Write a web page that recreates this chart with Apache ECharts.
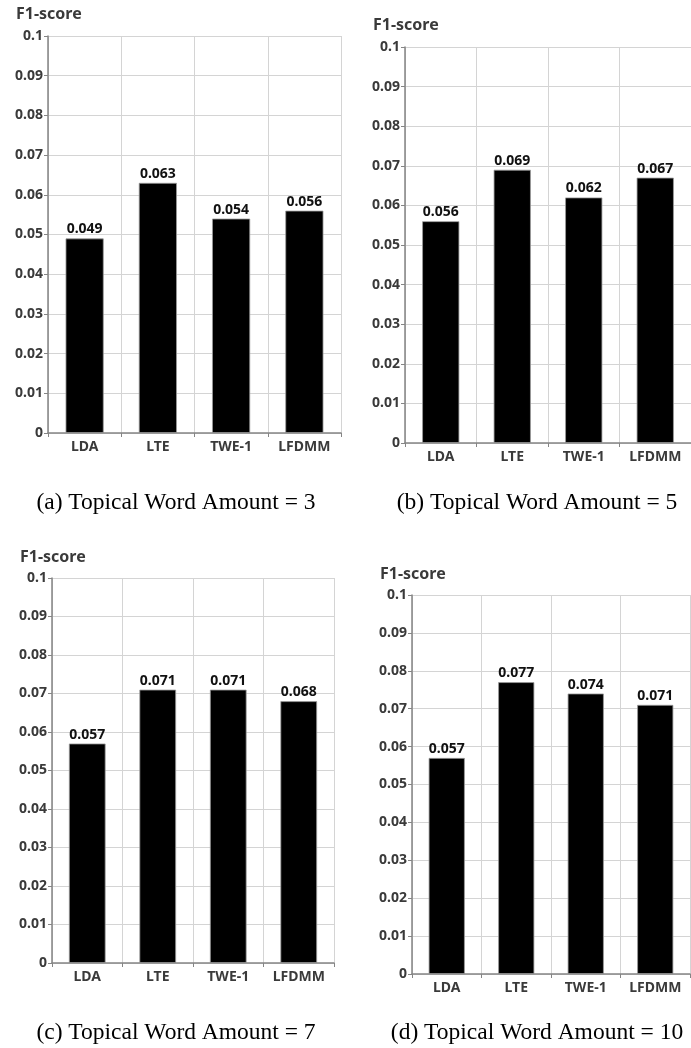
<!DOCTYPE html>
<html>
<head>
<meta charset="utf-8">
<script src="https://cdn.jsdelivr.net/npm/echarts@6/dist/echarts.min.js"></script>
<style>
html,body{margin:0;padding:0;background:#fff;overflow:hidden;}
#c{width:691px;height:1048px;}
</style>
</head>
<body>
<div id="c"></div>
<script>
const categories = ['LDA', 'LTE', 'TWE-1', 'LFDMM'];
const valuesA = [0.049, 0.063, 0.054, 0.056];
const valuesB = [0.056, 0.069, 0.062, 0.067];
const valuesC = [0.057, 0.071, 0.071, 0.068];
const valuesD = [0.057, 0.077, 0.074, 0.071];
const captions = ['(a) Topical Word Amount = 3', '(b) Topical Word Amount = 5', '(c) Topical Word Amount = 7', '(d) Topical Word Amount = 10'];
const yName = 'F1-score';
const yMin = 0, yMax = 0.1, yStep = 0.01;

const allValues = [valuesA, valuesB, valuesC, valuesD];
const W = 691;
const grids = [
  {left: 48, top: 36, right: W - 341, bottom: 1048 - 433},
  {left: 405, top: 47, right: W - 697, bottom: 1048 - 443},
  {left: 52, top: 578, right: W - 334, bottom: 1048 - 963},
  {left: 412, top: 595, right: W - 690, bottom: 1048 - 974}
];
const namePos = [[16, 14], [373, 25], [20, 557], [380, 574]];
const capPos = [[176, 503], [537, 503], [176, 1033], [537, 1033]];

const font = '"Noto Sans", "Open Sans", sans-serif';
const txt = '#3a3a3a';

const option = {
  animation: false,
  backgroundColor: '#fff',
  grid: grids.map(g => Object.assign({containLabel: false}, g)),
  xAxis: grids.map((g, i) => ({
    type: 'category', gridIndex: i, data: categories,
    axisLine: {lineStyle: {color: '#858585', width: 1.5}},
    axisTick: {show: true, length: 4, lineStyle: {color: '#858585'}},
    axisLabel: {color: txt, fontWeight: 'bold', fontSize: 14, fontFamily: font, margin: 7},
    splitLine: {show: true, lineStyle: {color: '#d4d4d4', width: 1}}
  })),
  yAxis: grids.map((g, i) => ({
    type: 'value', gridIndex: i, min: yMin, max: yMax, interval: yStep,
    axisLine: {show: true, lineStyle: {color: '#858585', width: 1.5}},
    axisTick: {show: true, length: 4, lineStyle: {color: '#858585'}},
    axisLabel: {color: txt, fontWeight: 'bold', fontSize: 14, fontFamily: font, margin: 5,
      formatter: v => String(+v.toFixed(3))},
    splitLine: {show: true, lineStyle: {color: '#d4d4d4', width: 1}}
  })),
  series: allValues.map((vals, i) => ({
    type: 'bar', xAxisIndex: i, yAxisIndex: i, data: vals, barWidth: '52%',
    itemStyle: {color: '#000', borderColor: '#9a9a9a', borderWidth: 0.8},
    label: {show: true, position: 'top', distance: 2, color: '#111', fontWeight: 'bold',
      fontSize: 14, fontFamily: font, formatter: p => p.value.toFixed(3)}
  })),
  graphic: [
    ...namePos.map(p => ({
      type: 'text', x: p[0], y: p[1],
      style: {text: yName, fill: txt, font: 'bold 16px ' + font, textVerticalAlign: 'middle'}
    })),
    ...capPos.map((p, i) => ({
      type: 'text', x: p[0], y: p[1],
      style: {text: captions[i], fill: '#000', font: '23.5px "Liberation Serif", "Times New Roman", serif',
        textAlign: 'center', textVerticalAlign: 'middle'}
    }))
  ]
};
echarts.init(document.getElementById('c')).setOption(option);
</script>
</body>
</html>
